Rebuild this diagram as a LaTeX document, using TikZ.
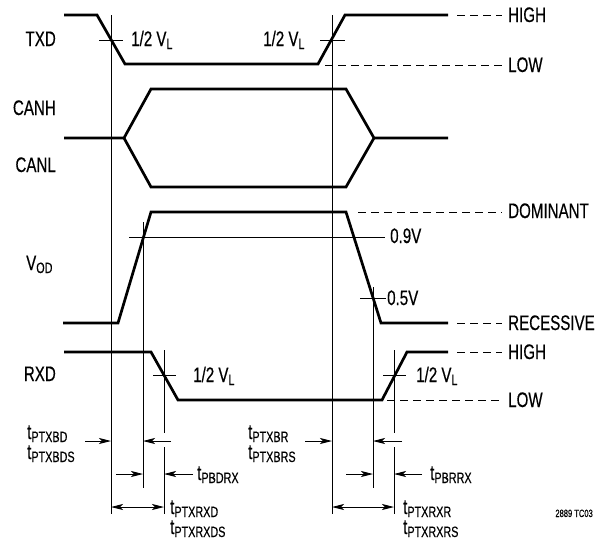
\documentclass[tikz,border=0pt]{standalone}
\usepackage{fontspec}
\setmainfont{Liberation Sans}[FakeStretch=0.72,FakeBold=0.4]
\usetikzlibrary{arrows.meta}
\newcommand{\sbs}[1]{\raisebox{-3pt}{\fontsize{15}{15}\selectfont #1}}
\begin{document}
\begin{tikzpicture}[x=1pt,y=-1pt,
  wave/.style={line width=2.7pt},
  thinl/.style={line width=0.9pt},
  dsh/.style={line width=0.9pt, dash pattern=on 8pt off 5pt},
  lbl/.style={inner sep=0pt, font=\fontsize{21}{23}\selectfont},
  small/.style={inner sep=0pt, font=\fontsize{10.5}{11}\selectfont},
  arr/.style={thinl, -{Stealth[length=12pt,width=6pt,inset=3pt]}},
  darr/.style={thinl, {Stealth[length=12pt,width=6pt,inset=3pt]}-{Stealth[length=12pt,width=6pt,inset=3pt]}}]
\useasboundingbox (0,0) rectangle (597,544);
% ---------- signal labels ----------
\node[lbl, anchor=base east] (txd) at (56,46) {TXD};
\node[lbl, anchor=base east] (canh) at (56,115) {CANH};
\node[lbl, anchor=base east] (canl) at (56,172) {CANL};
\node[lbl, anchor=base west] (vod) at (26,270) {V\sbs{OD}};
\node[lbl, anchor=base east] (rxd) at (56,381) {RXD};
% ---------- waveforms ----------
\draw[wave] (64,15) -- (97,15) -- (125,64) -- (318,64) -- (345,15) -- (448,15);
\draw[wave] (64,138) -- (124,138) -- (151,89) -- (346,89) -- (374,138) -- (448,138);
\draw[wave] (124,138) -- (151,187) -- (346,187) -- (374,138);
\draw[wave] (63,323) -- (118,323) -- (151,212) -- (346,212) -- (381,323) -- (448,323);
\draw[wave] (64,352) -- (151,352) -- (178,400) -- (382,400) -- (407,352) -- (448,352);
% ---------- level lines ----------
\draw[dsh] (457,15) -- (502,15);
\draw[dsh] (325,65) -- (502,65);
\draw[dsh] (358,212) -- (502,212);
\draw[dsh] (457,323) -- (502,323);
\draw[dsh] (457,352) -- (502,352);
\draw[dsh] (387,400) -- (502,400);
\node[lbl, anchor=base west] (high1) at (508,22) {HIGH};
\node[lbl, anchor=base west] (low1) at (508,72) {LOW};
\node[lbl, anchor=base west] (dom) at (508,218) {DOMINANT};
\node[lbl, anchor=base west] (rec) at (508,330) {RECESSIVE};
\node[lbl, anchor=base west] (high2) at (508,359) {HIGH};
\node[lbl, anchor=base west] (low2) at (508,407) {LOW};
% ---------- reference lines ----------
\draw[thinl] (111,15) -- (111,514);
\draw[thinl] (332,15) -- (332,514);
\draw[thinl] (143,222) -- (143,488);
\draw[thinl] (373,287) -- (373,488);
\draw[thinl] (164,350) -- (164,433) (164,447) -- (164,514);
\draw[thinl] (394,350) -- (394,433) (394,447) -- (394,514);
% crosshairs
\draw[thinl] (99,40) -- (123,40);
\draw[thinl] (320,40) -- (345,40);
\draw[thinl] (129,237) -- (385,237);
\draw[thinl] (360,298) -- (386,298);
\draw[thinl] (153,375) -- (176,375);
\draw[thinl] (383,375) -- (406,375);
\node[lbl, anchor=base west] (hv1) at (131,46) {1/2 V\sbs{L}};
\node[lbl, anchor=base west] (hv2) at (263,46) {1/2 V\sbs{L}};
\node[lbl, anchor=base west] (v09) at (390,243) {0.9V};
\node[lbl, anchor=base west] (v05) at (387,305) {0.5V};
\node[lbl, anchor=base west] (hv3) at (193,382) {1/2 V\sbs{L}};
\node[lbl, anchor=base west] (hv4) at (416,382) {1/2 V\sbs{L}};
% ---------- timing arrows ----------
\draw[arr] (85,441) -- (111,441);
\draw[arr] (171,441) -- (143,441);
\draw[arr] (305,441) -- (332,441);
\draw[arr] (402,441) -- (373,441);
\draw[arr] (116,474) -- (143,474);
\draw[arr] (193,474) -- (164,474);
\draw[arr] (346,474) -- (373,474);
\draw[arr] (422,474) -- (394,474);
\draw[darr] (111,507) -- (164,507);
\draw[darr] (332,507) -- (394,507);
% ---------- timing labels ----------
\node[lbl, anchor=base west] (t1) at (27,439) {t\sbs{PTXBD}};
\node[lbl, anchor=base west] (t1s) at (27,459) {t\sbs{PTXBDS}};
\node[lbl, anchor=base west] (t2) at (197,480) {t\sbs{PBDRX}};
\node[lbl, anchor=base west] (t3) at (170,514) {t\sbs{PTXRXD}};
\node[lbl, anchor=base west] (t3s) at (170,534) {t\sbs{PTXRXDS}};
\node[lbl, anchor=base west] (t4) at (248,439) {t\sbs{PTXBR}};
\node[lbl, anchor=base west] (t4s) at (248,459) {t\sbs{PTXBRS}};
\node[lbl, anchor=base west] (t5) at (430,480) {t\sbs{PBRRX}};
\node[lbl, anchor=base west] (t6) at (403,514) {t\sbs{PTXRXR}};
\node[lbl, anchor=base west] (t6s) at (403,534) {t\sbs{PTXRXRS}};
\node[small, anchor=base east] (code) at (593,517) {2889 TC03};
\end{tikzpicture}
\end{document}
